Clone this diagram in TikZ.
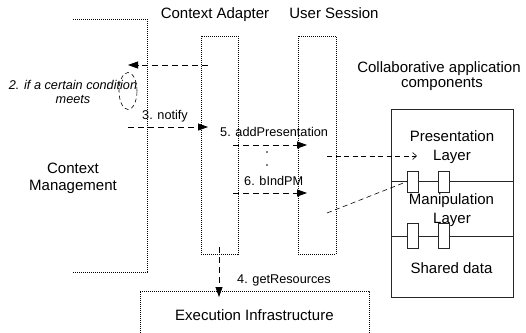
\documentclass[tikz,border=0pt]{standalone}
\usepackage{fontspec}
\setmainfont{Liberation Sans}
\usetikzlibrary{arrows.meta,shapes.geometric}
\begin{document}
\begin{tikzpicture}[x=1pt,y=-1pt,
  dotbox/.style={draw=black, line width=0.6pt, dash pattern=on 1pt off 1pt},
  msg/.style={draw=black, line width=0.8pt, dash pattern=on 6pt off 4pt, -{Triangle[length=10pt,width=7pt]}},
  dline/.style={draw=black, line width=0.6pt, dash pattern=on 5pt off 3.5pt},
  title/.style={font=\fontsize{15}{17}\selectfont, anchor=base, inner sep=0pt},
  lbl/.style={font=\fontsize{12.7}{15}\selectfont, anchor=base west, inner sep=0pt},
  comp/.style={draw=black!85, line width=0.8pt},
  port/.style={draw=black!85, line width=0.8pt, fill=white}]
\useasboundingbox (0,0) rectangle (526,332);
% Context management frame
\coordinate (cm1) at (73,19); \coordinate (cm2) at (147,19);
\coordinate (cm3) at (147,272); \coordinate (cm4) at (73,272);
\draw[dotbox] (cm1) -- (cm2) -- (cm3) -- (cm4);
\node[title] (cmA) at (73,173) {Context};
\node[title] (cmB) at (73,190) {Management};
% Execution infrastructure frame
\coordinate (ei1) at (140,333); \coordinate (ei2) at (140,291);
\coordinate (ei3) at (369,291); \coordinate (ei4) at (369,333);
\draw[dotbox] (ei1) -- (ei2) -- (ei3) -- (ei4);
\node[title, anchor=base west] (ei) at (175,320) {Execution Infrastructure};
% lifelines
\node[title] (caT) at (215,18) {Context Adapter};
\node[title] (usT) at (334,18) {User Session};
\draw[dotbox] (201,36) rectangle (238,254);
\node[inner sep=0pt, minimum width=37pt, minimum height=218pt] (ca) at (219.5,145) {};
\draw[dotbox] (298,36) rectangle (336,254);
\node[inner sep=0pt, minimum width=38pt, minimum height=218pt] (us) at (317,145) {};
% messages
\coordinate (a1s) at (208,65); \coordinate (a1e) at (128,65);
\draw[msg] (a1s) -- (a1e);
\node[draw=black, line width=0.6pt, dash pattern=on 4pt off 3pt, ellipse, minimum width=18pt, minimum height=37pt, inner sep=0pt] (cond) at (128,91) {};
\node[lbl, anchor=base, font=\fontsize{12.7}{15}\selectfont\itshape] (c1) at (73,89) {2. if a certain condition};
\node[lbl, anchor=base, font=\fontsize{12.7}{15}\selectfont\itshape] (c2) at (73,103) {meets};
\node[lbl] (n3) at (142,119) {3. notify};
\coordinate (a3s) at (128,127); \coordinate (a3e) at (208,127);
\draw[msg] (a3s) -- (a3e);
\node[lbl] (n5) at (220,136) {5. addPresentation};
\coordinate (a5s) at (233,145); \coordinate (a5e) at (307,145);
\draw[msg] (a5s) -- (a5e);
\fill (267,152) circle (0.8pt);
\fill (267,165) circle (0.8pt);
\node[lbl] (n6) at (244,185) {6. bIndPM};
\coordinate (a6s) at (233,193); \coordinate (a6e) at (307,193);
\draw[msg] (a6s) -- (a6e);
\coordinate (a4s) at (219,247); \coordinate (a4e) at (219,297);
\draw[msg] (a4s) -- (a4e);
\node[lbl] (n4) at (237,283) {4. getResources};
% component box
\node[title] (ctA) at (439,72) {Collaborative application};
\node[title] (ctB) at (442,87) {components};
\draw[comp] (391,109) rectangle (513,297);
\coordinate (d1l) at (391,181); \coordinate (d1r) at (513,181);
\coordinate (d2l) at (391,236); \coordinate (d2r) at (513,236);
\draw[comp] (d1l) -- (d1r);
\draw[comp] (d2l) -- (d2r);
\node[port, minimum width=11pt, minimum height=21pt, inner sep=0pt] (p1) at (413,181.5) {};
\node[port, minimum width=11pt, minimum height=21pt, inner sep=0pt] (p2) at (443.5,181.5) {};
\node[port, minimum width=11pt, minimum height=25pt, inner sep=0pt] (p3) at (413,235.5) {};
\node[port, minimum width=11pt, minimum height=25pt, inner sep=0pt] (p4) at (443.5,235.5) {};
\node[title] (pl1) at (452,141) {Presentation};
\node[title] (pl2) at (452,160) {Layer};
\node[title] (ml1) at (451.5,204) {Manipulation};
\node[title] (ml2) at (452,223) {Layer};
\node[title] (sd) at (451.5,273) {Shared data};
% links to component
\coordinate (l1s) at (327,156); \coordinate (l1e) at (417,156);
\draw[dline, -{Straight Barb[length=4pt,width=7pt]}] (l1s) -- (l1e);
\coordinate (l2s) at (327,213);
\draw[dline] (l2s) -- (p1.west);
\end{tikzpicture}
\end{document}
